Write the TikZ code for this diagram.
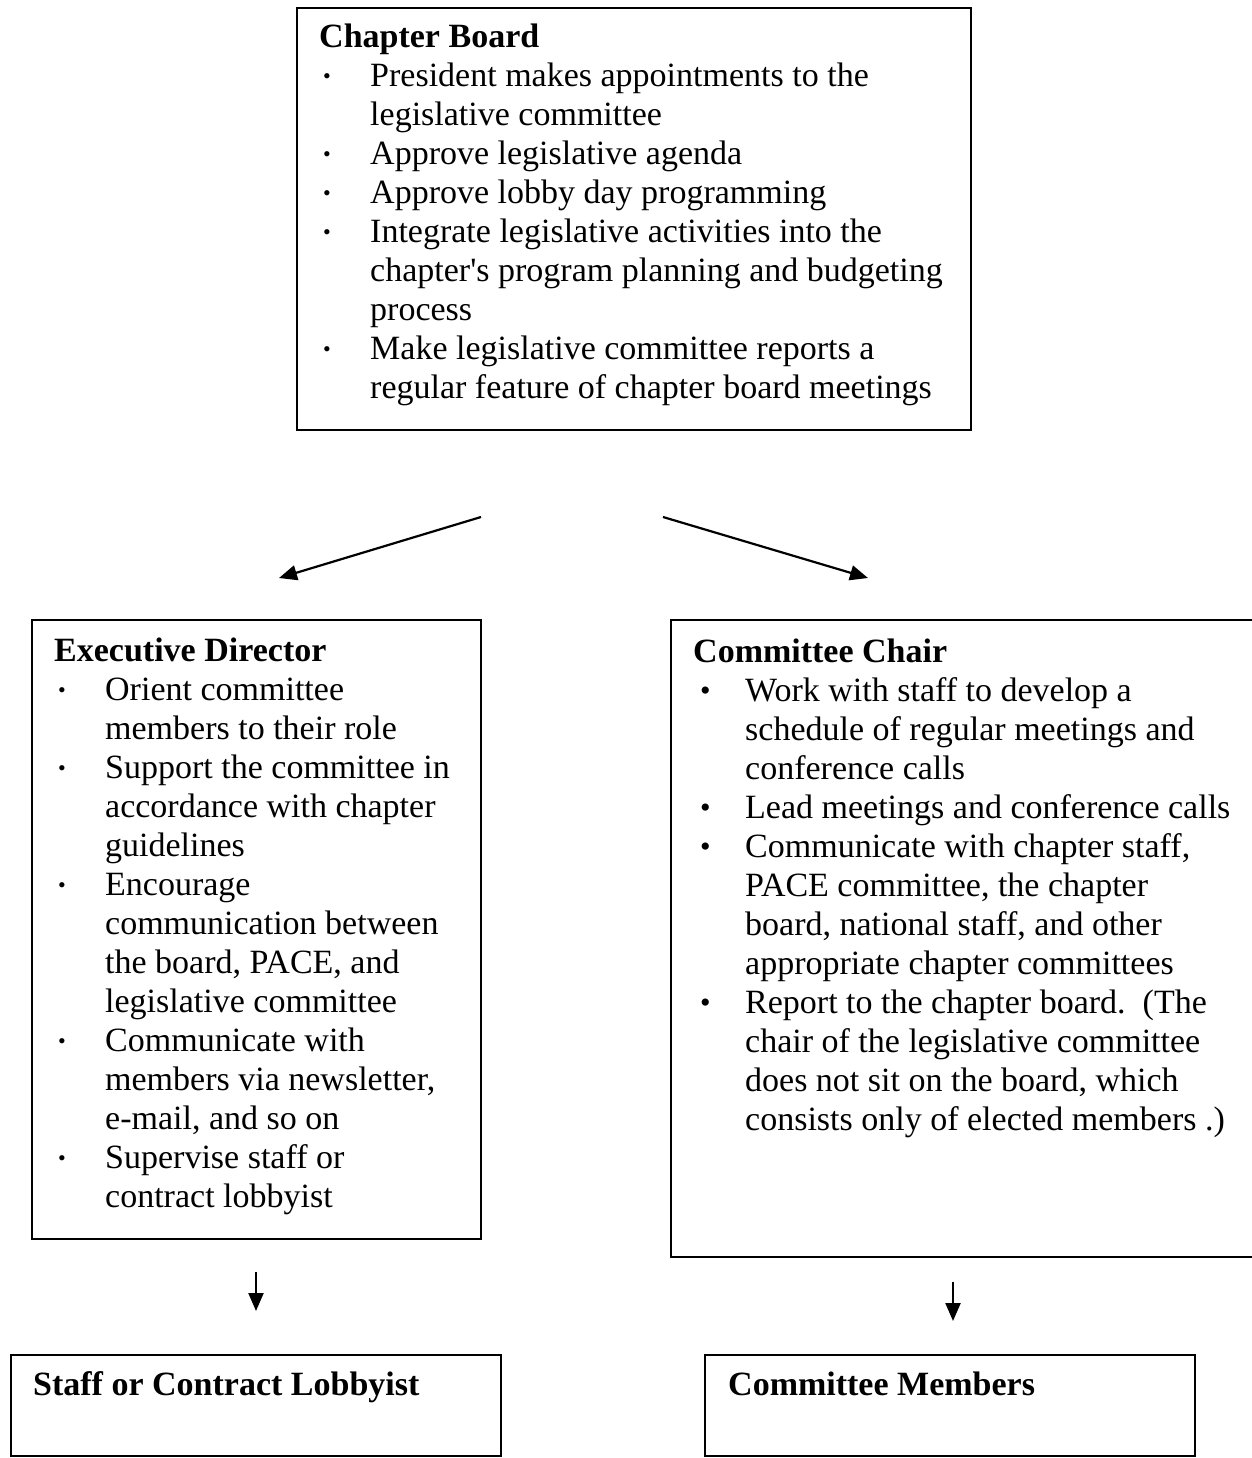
\documentclass[tikz,border=0pt]{standalone}
\usepackage{fontspec}
\setmainfont{Liberation Serif}[Ligatures=TeXOff]
\usetikzlibrary{arrows.meta}
\newcommand{\smbul}{\hspace{4pt}\raisebox{3pt}{\fontsize{22}{22}\selectfont\textbullet}}
\newcommand{\bgbul}{\hspace{7pt}\raisebox{1pt}{\fontsize{30}{30}\selectfont\textbullet}}
\begin{document}
\begin{tikzpicture}[x=1pt,y=-1pt,
  box/.style={draw=black,line width=2.2pt,anchor=north west,inner sep=0pt},
  txt/.style={anchor=base west,inner sep=0pt,font=\fontsize{34}{39}\selectfont},
  conn/.style={line width=2.2pt,-{Triangle[length=18pt,width=15pt]}}]
\useasboundingbox[fill=white] (0,0) rectangle (1251,1458);

% boxes
\node[box,minimum width=674pt,minimum height=422pt] (cb) at (296,7) {};
\node[box,minimum width=449pt,minimum height=619pt] (ed) at (31,619) {};
\node[box,minimum width=600pt,minimum height=637pt] (cc) at (670,619) {};
\node[box,minimum width=490pt,minimum height=101pt] (sl) at (10,1354) {};
\node[box,minimum width=490pt,minimum height=101pt] (cm) at (704,1354) {};

% texts
\node[txt] (cbt) at (319,48) {\begin{tabular}[t]{@{}p{51pt}@{}l@{}}
\multicolumn{2}{@{}l@{}}{\bfseries Chapter Board}\\
\smbul & President makes appointments to the\\
 & legislative committee\\
\smbul & Approve legislative agenda\\
\smbul & Approve lobby day programming\\
\smbul & Integrate legislative activities into the\\
 & chapter's program planning and budgeting\\
 & process\\
\smbul & Make legislative committee reports a\\
 & regular feature of chapter board meetings
\end{tabular}};

\node[txt] (edt) at (54,661) {\begin{tabular}[t]{@{}p{51pt}@{}l@{}}
\multicolumn{2}{@{}l@{}}{\bfseries Executive Director}\\
\smbul & Orient committee\\
 & members to their role\\
\smbul & Support the committee in\\
 & accordance with chapter\\
 & guidelines\\
\smbul & Encourage\\
 & communication between\\
 & the board, PACE, and\\
 & legislative committee\\
\smbul & Communicate with\\
 & members via newsletter,\\
 & e-mail, and so on\\
\smbul & Supervise staff or\\
 & contract lobbyist
\end{tabular}};

\node[txt] (cct) at (693,662) {\begin{tabular}[t]{@{}p{52pt}@{}l@{}}
\multicolumn{2}{@{}l@{}}{\bfseries Committee Chair}\\
\bgbul & Work with staff to develop a\\
 & schedule of regular meetings and\\
 & conference calls\\
\bgbul & Lead meetings and conference calls\\
\bgbul & Communicate with chapter staff,\\
 & PACE committee, the chapter\\
 & board, national staff, and other\\
 & appropriate chapter committees\\
\bgbul & Report to the chapter board.\ \ (The\\
 & chair of the legislative committee\\
 & does not sit on the board, which\\
 & consists only of elected members .)
\end{tabular}};

\node[txt,font=\fontsize{34}{39}\selectfont\bfseries] (slt) at (33,1395) {Staff or Contract Lobbyist};
\node[txt,font=\fontsize{34}{39}\selectfont\bfseries] (cmt) at (728,1395) {Committee Members};

% connectors
\coordinate (l1) at (481,517);
\coordinate (l2) at (279,578);
\coordinate (r1) at (663,517);
\coordinate (r2) at (868,578);
\coordinate (d1) at (256,1272);
\coordinate (d2) at (256,1311);
\coordinate (e1) at (953,1282);
\coordinate (e2) at (953,1321);
\draw[conn] (l1) -- (l2);
\draw[conn] (r1) -- (r2);
\draw[conn] (d1) -- (d2);
\draw[conn] (e1) -- (e2);
\end{tikzpicture}
\end{document}
